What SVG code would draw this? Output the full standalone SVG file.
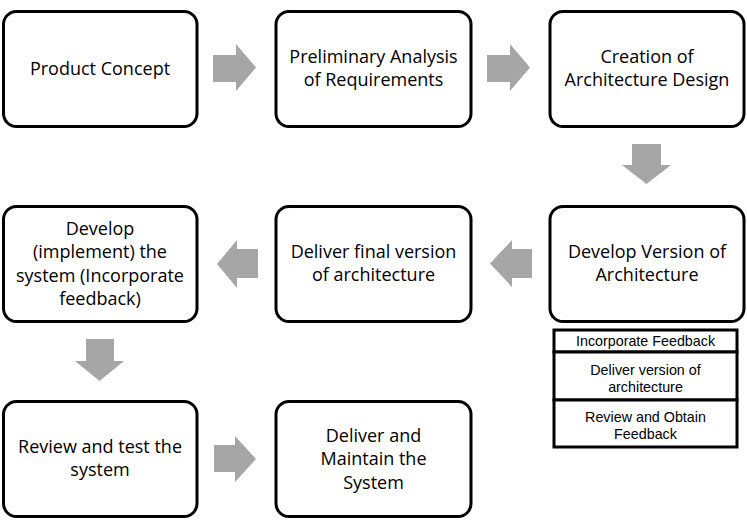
<svg xmlns="http://www.w3.org/2000/svg" width="747" height="527" viewBox="0 0 747 527">
<style>
.box{fill:#fff;stroke:#000;stroke-width:3}
.sbox{fill:#fff;stroke:#000;stroke-width:3}
.t{font-family:"Open Sans","Liberation Sans",sans-serif;font-size:18px;fill:#000;text-anchor:middle}
.s{font-family:"Liberation Sans",Arial,sans-serif;font-size:14.3px;fill:#000;text-anchor:middle}
.arr{fill:#a6a6a6}
</style>
<rect width="747" height="527" fill="#fff"/>
<g id="connectors">
<polygon class="arr" points="213,55 236,55 236,44 256,67.5 236,91 236,82 213,82"/>
<polygon class="arr" points="487,55 510,55 510,44 530,67.5 510,91 510,82 487,82"/>
<polygon class="arr" points="632,144 661,144 661,165 671,165 646.5,184 622,165 632,165"/>
<polygon class="arr" points="532,249 512,249 512,240 490,263.5 512,287 512,278 532,278"/>
<polygon class="arr" points="258,249 237,249 237,240 217,264 237,288 237,278 258,278"/>
<polygon class="arr" points="86,339 114,339 114,361 124,361 99.5,381 75,361 86,361"/>
<polygon class="arr" points="214,445 235,445 235,436 256,459 235,482 235,472 214,472"/>
</g>
<g id="n1"><rect class="box" x="3.5" y="11.5" width="193.5" height="115" rx="13"/><text class="t" x="100" y="75">Product Concept</text></g>
<g id="n2"><rect class="box" x="276" y="11.5" width="195" height="115" rx="13"/><text class="t" x="373.5" y="63">Preliminary Analysis</text><text class="t" x="373.5" y="86">of Requirements</text></g>
<g id="n3"><rect class="box" x="550" y="11.5" width="194" height="115" rx="13"/><text class="t" x="647" y="63">Creation of</text><text class="t" x="647" y="86">Architecture Design</text></g>
<g id="n4"><rect class="box" x="550" y="206.5" width="194" height="115" rx="13"/><text class="t" x="647" y="258">Develop Version of</text><text class="t" x="647" y="281">Architecture</text></g>
<g id="n5"><rect class="box" x="276" y="206.5" width="195" height="115" rx="13"/><text class="t" x="373.5" y="258">Deliver final version</text><text class="t" x="373.5" y="281">of architecture</text></g>
<g id="n6"><rect class="box" x="3.5" y="206.5" width="193.5" height="115" rx="13"/><text class="t" x="100" y="235">Develop</text><text class="t" x="100" y="258">(implement) the</text><text class="t" x="100" y="281.5">system (Incorporate</text><text class="t" x="100" y="305">feedback)</text></g>
<g id="n7"><rect class="box" x="3.5" y="401.5" width="193.5" height="115" rx="13"/><text class="t" x="100" y="453">Review and test the</text><text class="t" x="100" y="476">system</text></g>
<g id="n8"><rect class="box" x="276" y="401.5" width="195" height="115" rx="13"/><text class="t" x="373.5" y="442">Deliver and</text><text class="t" x="373.5" y="465">Maintain the</text><text class="t" x="373.5" y="489">System</text></g>
<g id="n9">
<rect class="sbox" x="554" y="330" width="183" height="22"/>
<text class="s" x="645.5" y="345.5">Incorporate Feedback</text>
</g>
<g id="n10">
<rect class="sbox" x="554" y="352" width="183" height="48"/>
<text class="s" x="645.5" y="375">Deliver version of</text>
<text class="s" x="645.5" y="392">architecture</text>
</g>
<g id="n11">
<rect class="sbox" x="554" y="400" width="183" height="47"/>
<text class="s" x="645.5" y="422">Review and Obtain</text>
<text class="s" x="645.5" y="439">Feedback</text>
</g>
</svg>
